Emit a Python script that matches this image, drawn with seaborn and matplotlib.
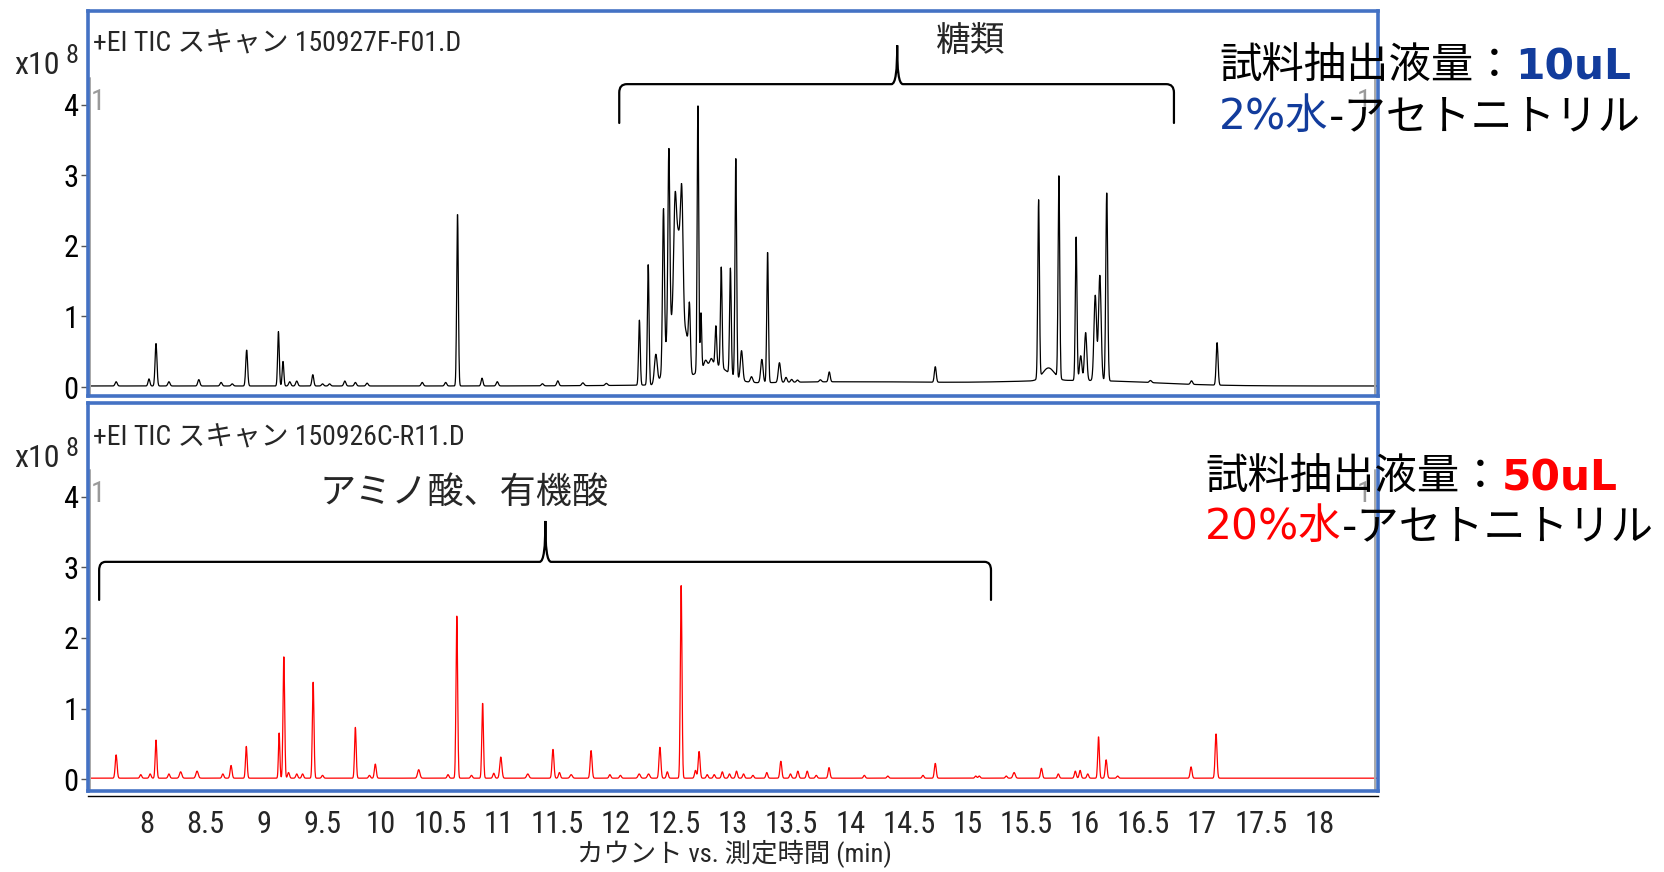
import numpy as np
import pandas as pd
import matplotlib
matplotlib.use("Agg")
import matplotlib.pyplot as plt
from matplotlib import font_manager as fm
from matplotlib.path import Path
from matplotlib.patches import PathPatch
import seaborn as sns

# ---------------- data ----------------
# upper run (150927F-F01.D): retention time [min], height [x10^8 counts], peak sigma [min]
top_rt = [7.74, 8.02, 8.08, 8.19, 8.445, 8.635, 8.73, 8.853, 9.124, 9.163,
          9.22, 9.28, 9.417, 9.50, 9.56, 9.69, 9.78, 9.88, 10.35, 10.55,
          10.651, 10.86, 10.99, 11.375, 11.506, 11.72, 11.92, 12.202, 12.277, 12.342,
          12.407, 12.453, 12.470, 12.505, 12.535, 12.564, 12.600, 12.629, 12.701, 12.727,
          12.766, 12.815, 12.820, 12.854, 12.900, 12.978, 13.024, 13.073, 13.158, 13.246,
          13.295, 13.396, 13.452, 13.500, 13.550, 13.745, 13.821, 14.000, 14.725, 15.606,
          15.690, 15.779, 15.926, 15.965, 16.000, 16.007, 16.089, 16.128, 16.187, 16.560,
          16.910, 17.128]
top_h = [0.06, 0.10, 0.60, 0.06, 0.09, 0.05, 0.03, 0.51, 0.77, 0.35,
         0.06, 0.07, 0.16, 0.03, 0.03, 0.07, 0.05, 0.04, 0.05, 0.05,
         2.45, 0.11, 0.06, 0.03, 0.07, 0.04, 0.03, 0.92, 1.72, 0.42,
         2.20, 2.60, 0.80, 1.20, 1.80, 1.63, 0.60, 0.85, 3.80, 0.80,
         0.08, 0.08, 0.28, 0.55, 1.42, 1.50, 3.10, 0.42, 0.08, 0.33,
         1.86, 0.28, 0.07, 0.04, 0.03, 0.03, 0.14, 0.06, 0.22, 2.52,
         0.18, 2.89, 2.03, 0.35, 0.07, 0.68, 1.21, 1.49, 2.68, 0.03,
         0.05, 0.60]
top_w = [0.009, 0.008, 0.008, 0.009, 0.009, 0.009, 0.009, 0.008, 0.007, 0.007,
         0.009, 0.009, 0.008, 0.009, 0.009, 0.009, 0.009, 0.009, 0.009, 0.009,
         0.007, 0.008, 0.009, 0.009, 0.009, 0.010, 0.010, 0.007, 0.007, 0.012,
         0.008, 0.008, 0.045, 0.011, 0.025, 0.011, 0.020, 0.008, 0.0065, 0.006,
         0.012, 0.012, 0.130, 0.007, 0.007, 0.007, 0.007, 0.010, 0.010, 0.010,
         0.007, 0.010, 0.009, 0.009, 0.009, 0.009, 0.008, 1.000, 0.008, 0.007,
         0.050, 0.007, 0.007, 0.010, 0.600, 0.010, 0.011, 0.011, 0.008, 0.010,
         0.009, 0.008]
top_base = 0.015

# lower run (150926C-R11.D)
bot_rt = [7.74, 7.95, 8.03, 8.08, 8.19, 8.29, 8.43, 8.65, 8.72, 8.85,
          9.13, 9.17, 9.21, 9.28, 9.33, 9.42, 9.50, 9.78, 9.90, 9.95,
          10.32, 10.57, 10.645, 10.77, 10.865, 10.96, 11.02, 11.25, 11.465, 11.52,
          11.62, 11.79, 11.95, 12.04, 12.20, 12.28, 12.377, 12.44, 12.558, 12.68,
          12.711, 12.78, 12.84, 12.909, 12.97, 13.03, 13.09, 13.17, 13.288, 13.408,
          13.49, 13.553, 13.633, 13.71, 13.819, 14.12, 14.32, 14.62, 14.725, 15.07,
          15.10, 15.33, 15.397, 15.63, 15.774, 15.919, 15.96, 16.025, 16.117, 16.182,
          16.28, 16.906, 17.119]
bot_h = [0.33, 0.05, 0.06, 0.54, 0.06, 0.09, 0.10, 0.06, 0.18, 0.45,
         0.64, 1.72, 0.08, 0.06, 0.06, 1.36, 0.04, 0.72, 0.04, 0.20,
         0.12, 0.05, 2.32, 0.04, 1.07, 0.07, 0.30, 0.06, 0.41, 0.08,
         0.05, 0.39, 0.05, 0.04, 0.06, 0.06, 0.44, 0.09, 2.73, 0.11,
         0.38, 0.05, 0.05, 0.09, 0.06, 0.10, 0.06, 0.04, 0.08, 0.24,
         0.06, 0.10, 0.10, 0.04, 0.15, 0.04, 0.03, 0.04, 0.21, 0.03,
         0.03, 0.03, 0.08, 0.14, 0.06, 0.10, 0.11, 0.06, 0.59, 0.26,
         0.03, 0.16, 0.63]
bot_w = [0.008, 0.008, 0.008, 0.007, 0.008, 0.010, 0.010, 0.008, 0.008, 0.007,
         0.006, 0.007, 0.008, 0.008, 0.008, 0.007, 0.008, 0.007, 0.008, 0.008,
         0.010, 0.008, 0.007, 0.008, 0.007, 0.008, 0.009, 0.010, 0.008, 0.008,
         0.010, 0.008, 0.008, 0.008, 0.010, 0.010, 0.008, 0.008, 0.007, 0.008,
         0.008, 0.008, 0.008, 0.008, 0.008, 0.008, 0.008, 0.008, 0.008, 0.008,
         0.008, 0.008, 0.008, 0.008, 0.008, 0.008, 0.008, 0.008, 0.008, 0.008,
         0.008, 0.008, 0.010, 0.008, 0.008, 0.008, 0.008, 0.008, 0.007, 0.008,
         0.008, 0.008, 0.008]
bot_base = 0.012

x_ticks = [8, 8.5, 9, 9.5, 10, 10.5, 11, 11.5, 12, 12.5, 13, 13.5, 14,
           14.5, 15, 15.5, 16, 16.5, 17, 17.5, 18, 18.5]
x_ticklabels = ["8", "8.5", "9", "9.5", "10", "10.5", "11", "11.5", "12", "12.5",
                "13", "13.5", "14", "14.5", "15", "15.5", "16", "16.5", "17",
                "17.5", "18", ""]
y_ticks = [0, 1, 2, 3, 4]
x_range = (7.5, 18.5)

top_title = "+EI TIC スキャン 150927F-F01.D"
bot_title = "+EI TIC スキャン 150926C-R11.D"
top_group = "糖類"
bot_group = "アミノ酸、有機酸"
x_label = "カウント vs. 測定時間 (min)"

# ---------------- build traces ----------------
t = np.linspace(x_range[0], x_range[1], 5501)


def trace(rt, h, w, base):
    rt = np.asarray(rt)[:, None]
    h = np.asarray(h)[:, None]
    w = np.asarray(w)[:, None]
    return base + (h * np.exp(-0.5 * ((t[None, :] - rt) / w) ** 2)).sum(axis=0)


df_top = pd.DataFrame({"time": t, "counts": trace(top_rt, top_h, top_w, top_base)})
df_bot = pd.DataFrame({"time": t, "counts": trace(bot_rt, bot_h, bot_w, bot_base)})

# ---------------- fonts ----------------
sns.set_style("white")
_names = {f.name for f in fm.fontManager.ttflist}
narrow = None
stretch = "normal"
for cand in ["Liberation Sans Narrow", "Arial Narrow", "Roboto Condensed",
             "Open Sans Condensed", "DejaVu Sans Condensed"]:
    if cand in _names:
        narrow = cand
        break
if narrow is None:
    for n in sorted(_names):
        if "Narrow" in n or "Condensed" in n:
            narrow = n
            break
if narrow is None and any(f.name == "DejaVu Sans" and f.stretch == "condensed"
                          for f in fm.fontManager.ttflist):
    narrow, stretch = "DejaVu Sans", "condensed"

if narrow is not None:
    BASEFAM = [narrow, "Noto Sans CJK JP", "DejaVu Sans"]
    TICK_SZ, TITLE_SZ, XLAB_SZ, MULT_SZ = 22, 20, 19, 23
else:
    BASEFAM = ["Noto Sans CJK JP", "DejaVu Sans"]
    TICK_SZ, TITLE_SZ, XLAB_SZ, MULT_SZ = 21, 19, 18, 20
    stretch = "normal"
CJK = ["Noto Sans CJK JP", "DejaVu Sans"]
NOTE = ["DejaVu Sans", "Noto Sans CJK JP"]
plt.rcParams["font.family"] = BASEFAM
plt.rcParams["font.stretch"] = stretch
plt.rcParams["axes.unicode_minus"] = False

W, H = 1665, 872
fig = plt.figure(figsize=(W / 100, H / 100), dpi=100)


def fx(px):
    return px / W


def fy(py):
    return 1 - py / H


BLUE = "#4472C4"
left_px, right_px = 88, 1378

ax1 = fig.add_axes([fx(left_px), fy(396), (right_px - left_px) / W, (396 - 11) / H])
ax2 = fig.add_axes([fx(left_px), fy(791), (right_px - left_px) / W, (791 - 403) / H])
ax3 = fig.add_axes([fx(left_px), fy(796), (right_px - left_px) / W, 0.0005])

sns.lineplot(data=df_top, x="time", y="counts", ax=ax1, color="black",
             linewidth=0.9, estimator=None, sort=False)
sns.lineplot(data=df_bot, x="time", y="counts", ax=ax2, color="#FF0000",
             linewidth=0.9, estimator=None, sort=False)

ylims = {ax1: (-0.127, 5.326), ax2: (-0.17, 5.333)}
for ax in (ax1, ax2):
    ax.set_xlim(*x_range)
    ax.set_ylim(*ylims[ax])
    ax.set_xlabel("")
    ax.set_ylabel("")
    for s in ax.spines.values():
        s.set_color(BLUE)
        s.set_linewidth(2.6)
    ax.set_yticks(y_ticks)
    ax.set_yticklabels([str(v) for v in y_ticks])
    ax.tick_params(axis="y", direction="out", length=5, width=1, color="#555555",
                   pad=2, labelsize=TICK_SZ, labelcolor="black", left=True)
    ax.tick_params(axis="x", bottom=False, labelbottom=False)
    lo, hi = ylims[ax]
    top_frac = (4.38 - lo) / (hi - lo)
    ax.axvline(x_range[0] + 0.02, ymin=0, ymax=top_frac, color="#a8a8a8", lw=1.4)
    ax.axvline(x_range[1] - 0.025, ymin=0, ymax=top_frac, color="#a8a8a8", lw=1.4)
    ax.text(x_range[0] + 0.025, 4.04, "1", color="#9a9a9a", fontsize=TICK_SZ - 1,
            ha="left", va="center")
    ax.text(x_range[1] - 0.06, 4.04, "1", color="#9a9a9a", fontsize=TICK_SZ - 1,
            ha="right", va="center")

# separate time axis under the lower panel
ax3.set_xlim(*x_range)
ax3.set_yticks([])
for k in ("left", "right", "top"):
    ax3.spines[k].set_visible(False)
ax3.spines["bottom"].set_color("black")
ax3.spines["bottom"].set_linewidth(1.0)
ax3.set_xticks(x_ticks)
ax3.set_xticklabels(x_ticklabels)
ax3.tick_params(axis="x", direction="out", length=5, width=1, color="#333333",
                pad=5, labelsize=TICK_SZ)
ax3.patch.set_alpha(0)


# ---------------- braces ----------------
def brace(ax, x0, x1, xm, y, y_end, y_tip, rx, ry, w):
    verts = [(x0, y_end), (x0, y - ry),
             (x0, y), (x0 + rx, y),
             (xm - w, y),
             (xm - 0.25 * w, y), (xm, y + 0.35 * (y_tip - y)), (xm, y_tip),
             (xm, y + 0.35 * (y_tip - y)), (xm + 0.25 * w, y), (xm + w, y),
             (x1 - rx, y),
             (x1, y), (x1, y - ry),
             (x1, y_end)]
    codes = [Path.MOVETO, Path.LINETO,
             Path.CURVE3, Path.CURVE3,
             Path.LINETO,
             Path.CURVE4, Path.CURVE4, Path.CURVE4,
             Path.CURVE4, Path.CURVE4, Path.CURVE4,
             Path.LINETO,
             Path.CURVE3, Path.CURVE3,
             Path.LINETO]
    ax.add_patch(PathPatch(Path(verts, codes), fill=False, lw=1.6,
                           edgecolor="black", capstyle="round", zorder=4))


brace(ax1, 12.03, 16.76, 14.40, 4.29, 3.74, 4.84, 0.065, 0.12, 0.05)
brace(ax2, 7.595, 15.20, 11.40, 3.08, 2.54, 3.66, 0.055, 0.12, 0.05)
ax1.text(15.03, 4.89, top_group, fontsize=25, family=CJK, ha="center", va="center")
ax2.text(10.71, 4.06, bot_group, fontsize=26, family=CJK, ha="center", va="center")

# ---------------- panel titles & y multiplier ----------------
fig.text(fx(93), fy(44), top_title, fontsize=TITLE_SZ, ha="left", va="center")
fig.text(fx(93), fy(438), bot_title, fontsize=TITLE_SZ, ha="left", va="center")
for ax, base_y in ((ax1, 74), (ax2, 467)):
    mult = fig.text(fx(14), fy(base_y), "x10", fontsize=MULT_SZ, ha="left",
                    va="baseline")
    ax.annotate("8", xy=(1, 1), xycoords=mult, xytext=(4, 5),
                textcoords="offset points", fontsize=MULT_SZ - 4,
                ha="left", va="top", annotation_clip=False)

fig.text(fx(734), fy(854), x_label, fontsize=XLAB_SZ, ha="center", va="center")


# ---------------- condition notes (right) ----------------
def rich_line(ax, x_px, base_px, parts, size=30.5):
    prev = fig.text(fx(x_px), fy(base_px), parts[0][0], color=parts[0][1],
                    fontweight=parts[0][2], fontsize=size, family=NOTE,
                    fontstretch="normal", ha="left", va="baseline", zorder=10)
    for s, c, wgt in parts[1:]:
        prev = ax.annotate(s, xy=(1, fy(base_px)), xycoords=(prev, "figure fraction"),
                           color=c, fontweight=wgt, fontsize=size, family=NOTE,
                           fontstretch="normal", ha="left", va="baseline",
                           annotation_clip=False, zorder=10)


DBLUE = "#123C9C"
RED = "#FF0000"
rich_line(ax1, 1219, 79, [("試料抽出液量：", "black", "normal"), ("10uL", DBLUE, "bold")])
rich_line(ax1, 1219, 129, [("2%水", DBLUE, "normal"), ("-アセトニトリル", "black", "normal")])
rich_line(ax2, 1205, 490, [("試料抽出液量：", "black", "normal"), ("50uL", RED, "bold")])
rich_line(ax2, 1205, 539, [("20%水", RED, "normal"), ("-アセトニトリル", "black", "normal")])

fig.savefig("out.png", dpi=100)
